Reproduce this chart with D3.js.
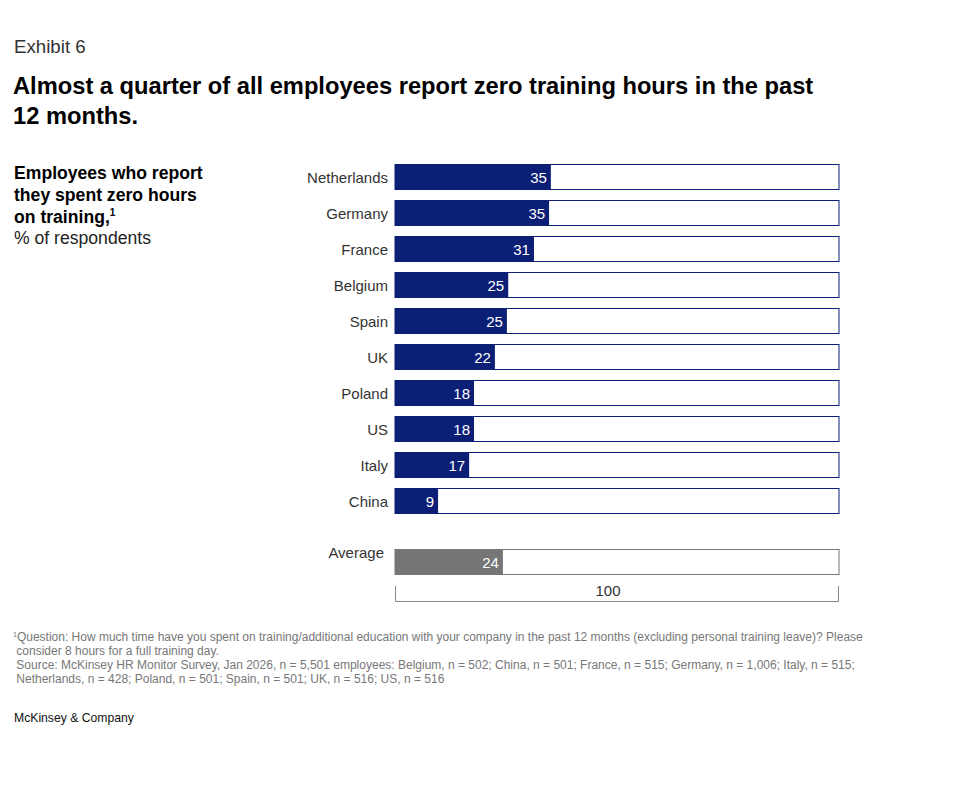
<!DOCTYPE html>
<html>
<head>
<meta charset="utf-8">
<script src="https://cdn.jsdelivr.net/npm/d3@7"></script>
<style>
  body { margin: 0; background: #fff; }
  svg { font-family: "Liberation Sans", Arial, sans-serif; }
</style>
</head>
<body>
<div id="chart"><svg width="960" height="800"></svg></div>
<script>
const countries = ["Netherlands", "Germany", "France", "Belgium", "Spain", "UK", "Poland", "US", "Italy", "China"];
const values = [35, 35, 31, 25, 25, 22, 18, 18, 17, 9];
// drawn bar lengths are slightly off the rounded labels in the source
const barLengths = [35.1, 34.7, 31.3, 25.5, 25.2, 22.5, 17.8, 17.8, 16.7, 9.7];
const averageLabel = "Average";
const averageValue = 24;
const averageLength = 24.3;
const scaleMax = 100;

const footnotes = [
    "Question: How much time have you spent on training/additional education with your company in the past 12 months (excluding personal training leave)? Please",
    " consider 8 hours for a full training day.",
    " Source: McKinsey HR Monitor Survey, Jan 2026, n = 5,501 employees: Belgium, n = 502; China, n = 501; France, n = 515; Germany, n = 1,006; Italy, n = 515;",
    " Netherlands, n = 428; Poland, n = 501; Spain, n = 501; UK, n = 516; US, n = 516"
];

const navy = "#0b1f77";
const grey = "#767676";

const svg = d3.select("#chart").select("svg");

svg.append("text").attr("x", 14).attr("y", 53)
    .attr("font-size", "18.7px").attr("fill", "#333").text("Exhibit 6");

const title = svg.append("text").attr("font-size", "23.7px").attr("font-weight", "bold").attr("fill", "#000");
title.append("tspan").attr("x", 13).attr("y", 94).text("Almost a quarter of all employees report zero training hours in the past");
title.append("tspan").attr("x", 13).attr("y", 124).text("12 months.");

const sub = svg.append("g").attr("font-size", "17.6px").attr("fill", "#000");
sub.append("text").attr("x", 14).attr("y", 179).attr("font-weight", "bold").text("Employees who report");
sub.append("text").attr("x", 14).attr("y", 201).attr("font-weight", "bold").text("they spent zero hours");
const s3 = sub.append("text").attr("x", 14).attr("y", 223).attr("font-weight", "bold").text("on training,");
s3.append("tspan").attr("font-size", "10px").attr("dy", -7).text("1");
sub.append("text").attr("x", 14).attr("y", 244).attr("fill", "#222").text("% of respondents");

const x = d3.scaleLinear().domain([0, scaleMax]).range([395, 839]);
const y = d3.scaleBand().domain(countries).range([164, 514]).paddingInner(10 / 36).paddingOuter(0);

const rows = svg.append("g").selectAll("g").data(countries).join("g");

rows.append("rect")
    .attr("x", x(0)).attr("y", d => y(d) + 0.5)
    .attr("width", x(scaleMax) - x(0)).attr("height", y.bandwidth() - 1)
    .attr("fill", "#fff").attr("stroke", navy).attr("stroke-width", 1);

rows.append("rect")
    .attr("x", x(0)).attr("y", d => y(d))
    .attr("width", (d, i) => x(barLengths[i]) - x(0)).attr("height", y.bandwidth())
    .attr("fill", navy);

rows.append("text")
    .attr("x", (d, i) => x(barLengths[i]) - 4)
    .attr("y", d => y(d) + y.bandwidth() / 2 + 5.5)
    .attr("text-anchor", "end").attr("font-size", "15px").attr("fill", "#fff")
    .text((d, i) => values[i]);

rows.append("text")
    .attr("x", 388)
    .attr("y", d => y(d) + y.bandwidth() / 2 + 5.5)
    .attr("text-anchor", "end").attr("font-size", "15px").attr("fill", "#333")
    .text(d => d);

// average row
const avgY = 549, avgH = y.bandwidth();
svg.append("rect").attr("x", x(0)).attr("y", avgY + 0.5)
    .attr("width", x(scaleMax) - x(0)).attr("height", avgH - 1)
    .attr("fill", "#fff").attr("stroke", grey);
svg.append("rect").attr("x", x(0)).attr("y", avgY)
    .attr("width", x(averageLength) - x(0)).attr("height", avgH).attr("fill", grey);
svg.append("text").attr("x", x(averageLength) - 4).attr("y", avgY + avgH / 2 + 5.5)
    .attr("text-anchor", "end").attr("font-size", "15px").attr("fill", "#fff").text(averageValue);
svg.append("text").attr("x", 384).attr("y", 558)
    .attr("text-anchor", "end").attr("font-size", "15px").attr("fill", "#333").text(averageLabel);

// scale bracket
svg.append("path")
    .attr("d", `M${x(0) + 0.5},586V601.5H${x(scaleMax) - 0.5}V586`)
    .attr("fill", "none").attr("stroke", "#888").attr("stroke-width", 1);
svg.append("text").attr("x", 608).attr("y", 596)
    .attr("text-anchor", "middle").attr("font-size", "15px").attr("fill", "#333").text(scaleMax);

// footnotes
const fn = svg.append("g").attr("font-size", "12px").attr("fill", "#777");
footnotes.forEach((t, i) => {
    const el = fn.append("text").attr("x", 13).attr("y", 641 + i * 14).attr("xml:space", "preserve");
    if (i === 0) {
        el.append("tspan").attr("font-size", "7px").attr("dy", -4).text("1");
        el.append("tspan").attr("dy", 4).text(t);
    } else {
        el.text(t);
    }
});

svg.append("text").attr("x", 14).attr("y", 722)
    .attr("font-size", "12.2px").attr("fill", "#111").text("McKinsey & Company");
</script>
</body>
</html>
